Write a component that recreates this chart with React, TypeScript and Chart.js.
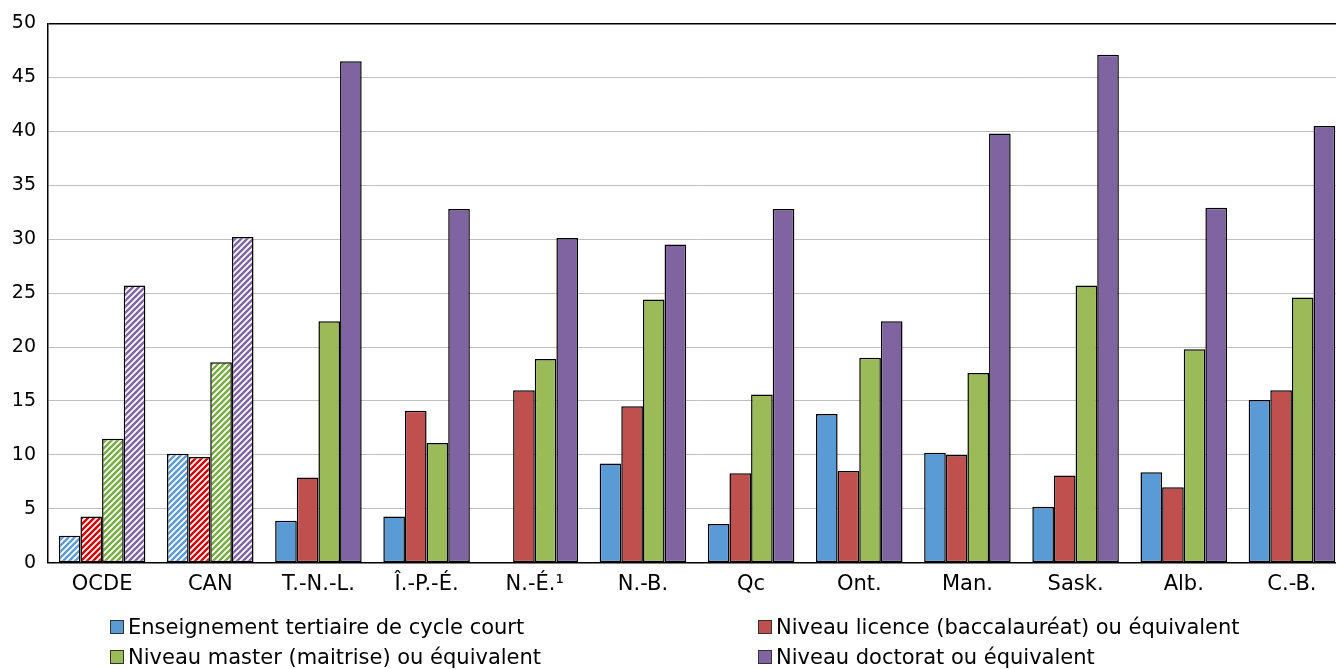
import React, { useEffect, useRef } from "react";
import { Chart, registerables } from "chart.js";

Chart.register(...registerables);

const categories = ["OCDE", "CAN", "T.-N.-L.", "Î.-P.-É.", "N.-É.¹", "N.-B.", "Qc", "Ont.", "Man.", "Sask.", "Alb.", "C.-B."];
const shortCycle = [2.5, 10.1, 3.9, 4.3, null, 9.2, 3.6, 13.8, 10.2, 5.2, 8.4, 15.1];
const bachelor = [4.3, 9.8, 7.9, 14.1, 16.0, 14.5, 8.3, 8.5, 10.0, 8.1, 7.0, 16.0];
const master = [11.5, 18.6, 22.4, 11.1, 18.9, 24.4, 15.6, 19.0, 17.6, 25.7, 19.8, 24.6];
const doctorate = [25.7, 30.2, 46.5, 32.8, 30.1, 29.5, 32.8, 22.4, 39.8, 47.1, 32.9, 40.5];
const seriesLabels = [
  "Enseignement tertiaire de cycle court",
  "Niveau licence (baccalauréat) ou équivalent",
  "Niveau master (maitrise) ou équivalent",
  "Niveau doctorat ou équivalent",
];
const hatchedCategories = ["OCDE", "CAN"];
const yTicks = [0, 5, 10, 15, 20, 25, 30, 35, 40, 45, 50];

const solidColors = ["#5B9BD5", "#C0504D", "#9BBB59", "#8064A2"];
const hatchColors = ["#5B9BD5", "#D40000", "#77AC3E", "#8064A2"];

const FONT = "'DejaVu Sans', Verdana, sans-serif";

function makePattern(color: string): CanvasPattern | string {
  const s = 6;
  const c = document.createElement("canvas");
  c.width = s;
  c.height = s;
  const ctx = c.getContext("2d");
  if (!ctx) return color;
  ctx.fillStyle = "#ffffff";
  ctx.fillRect(0, 0, s, s);
  ctx.strokeStyle = color;
  ctx.lineWidth = 2.4;
  ctx.beginPath();
  ctx.moveTo(0, s);
  ctx.lineTo(s, 0);
  ctx.moveTo(-s / 2, s / 2);
  ctx.lineTo(s / 2, -s / 2);
  ctx.moveTo(s / 2, s + s / 2);
  ctx.lineTo(s + s / 2, s / 2);
  ctx.stroke();
  return ctx.createPattern(c, "repeat") || color;
}

export default function App() {
  const ref = useRef<HTMLCanvasElement | null>(null);

  useEffect(() => {
    if (!ref.current) return;
    const all = [shortCycle, bachelor, master, doctorate];
    const patterns = hatchColors.map((c) => makePattern(c));
    const chart = new Chart(ref.current, {
      type: "bar",
      data: {
        labels: categories,
        datasets: all.map((d, i) => ({
          label: seriesLabels[i],
          data: d,
          backgroundColor: (ctx: any) =>
            hatchedCategories.includes(categories[ctx.dataIndex]) ? patterns[i] : solidColors[i],
          borderColor: "#000000",
          borderWidth: 1.5,
          borderSkipped: false,
          categoryPercentage: 0.8,
          barPercentage: 1.0,
        })),
      },
      options: {
        animation: false,
        responsive: false,
        maintainAspectRatio: false,
        layout: { padding: { top: 22, bottom: 63, left: 0, right: 0 } },
        plugins: { legend: { display: false }, tooltip: { enabled: false } },
        scales: {
          x: {
            grid: { display: false, drawTicks: false },
            border: { color: "#000000", width: 1.5 },
            ticks: { color: "#000000", font: { family: FONT, size: 21 }, padding: 9, maxRotation: 0, autoSkip: false },
          },
          y: {
            min: 0,
            max: 50,
            afterBuildTicks: (scale: any) => {
              scale.ticks = yTicks.map((v) => ({ value: v }));
            },
            afterFit: (scale: any) => {
              scale.width = 48;
            },
            grid: {
              color: (ctx: any) => (ctx.tick && ctx.tick.value === 50 ? "#000000" : "#BFBFBF"),
              lineWidth: (ctx: any) => (ctx.tick && ctx.tick.value === 50 ? 1.5 : 1),
              drawTicks: false,
            },
            border: { color: "#000000", width: 1.5 },
            ticks: { color: "#000000", font: { family: FONT, size: 19 }, padding: 12 },
          },
        },
      },
    });
    return () => chart.destroy();
  }, []);

  const legendItem = (i: number, left: number, top: number) => (
    <div
      key={i}
      style={{
        position: "absolute",
        left,
        top,
        display: "flex",
        alignItems: "center",
        fontFamily: FONT,
        fontSize: 21,
        color: "#000",
        whiteSpace: "nowrap",
        lineHeight: "26px",
      }}
    >
      <span
        style={{
          display: "inline-block",
          width: 12,
          height: 12,
          background: solidColors[i],
          border: "1.5px solid #333",
          marginRight: 4,
        }}
      />
      <span>{seriesLabels[i]}</span>
    </div>
  );

  return (
    <div style={{ position: "absolute", left: 0, top: 0, width: 1336, height: 669, background: "#fff", overflow: "hidden" }}>
      <canvas ref={ref} width={1346} height={669} style={{ position: "absolute", left: 0, top: 0 }} />
      {legendItem(0, 110, 614)}
      {legendItem(1, 758, 614)}
      {legendItem(2, 110, 644)}
      {legendItem(3, 758, 644)}
    </div>
  );
}
